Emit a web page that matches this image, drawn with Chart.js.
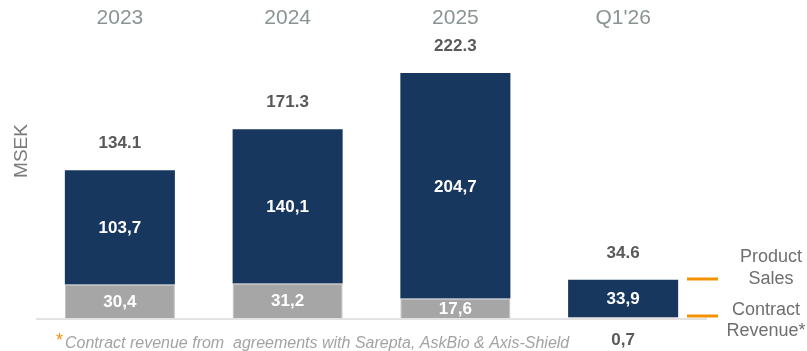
<!DOCTYPE html>
<html>
<head>
<meta charset="utf-8">
<script src="https://cdn.jsdelivr.net/npm/chart.js@4/dist/chart.umd.min.js"></script>
<style>
  html, body { margin: 0; padding: 0; background: #fff; }
  #wrap { position: relative; width: 807px; height: 351px; }
</style>
</head>
<body>
<div id="wrap"><canvas id="revenueChart"></canvas></div>
<script>
const periods = ["2023", "2024", "2025", "Q1'26"];
const contractRevenue = [30.4, 31.2, 17.6, 0.7];
const productSales = [103.7, 140.1, 204.7, 33.9];
const legendItems = [["Product", "Sales"], ["Contract", "Revenue*"]];
const footnote = "Contract revenue from  agreements with Sarepta, AskBio & Axis-Shield";

const colors = {
  navy: "#17375e",
  gray: "#a6a6a6",
  header: "#8a9393",
  total: "#595959",
  legend: "#6f6f6f",
  note: "#a3a3a3",
  orange: "#f39200",
  axis: "#d9d9d9"
};

const FONT = '"Liberation Sans", Arial, Helvetica, sans-serif';
const fmtComma = v => v.toFixed(1).replace(".", ",");

// all the text and the baseline are drawn here, placed from the chart's own scales
const annotations = {
  id: "annotations",
  afterDatasetsDraw(chart) {
    const { ctx, scales: { x, y }, chartArea } = chart;
    const base = y.getPixelForValue(0);
    ctx.save();

    // baseline
    ctx.strokeStyle = colors.axis;
    ctx.lineWidth = 1.5;
    ctx.beginPath();
    ctx.moveTo(chartArea.left, base + 1);
    ctx.lineTo(chartArea.right, base + 1);
    ctx.stroke();

    ctx.textAlign = "center";
    ctx.textBaseline = "middle";

    // period headers
    ctx.fillStyle = colors.header;
    ctx.font = `21px ${FONT}`;
    periods.forEach((p, i) => ctx.fillText(p, x.getPixelForValue(i), 18));

    // segment values
    const gray = chart.getDatasetMeta(0).data;
    const navy = chart.getDatasetMeta(1).data;
    ctx.font = `bold 17px ${FONT}`;
    gray.forEach((bar, i) => {
      const h = bar.base - bar.y;
      if (h > 14) {
        ctx.fillStyle = "#fff";
        ctx.fillText(fmtComma(contractRevenue[i]), bar.x, (bar.y + bar.base) / 2 + 1);
      } else {
        ctx.fillStyle = colors.total;
        ctx.fillText(fmtComma(contractRevenue[i]), bar.x, base + 22);
      }
    });
    navy.forEach((bar, i) => {
      ctx.fillStyle = "#fff";
      ctx.fillText(fmtComma(productSales[i]), bar.x, (bar.y + bar.base) / 2 + 1);
    });

    // totals above the stacks
    ctx.fillStyle = colors.total;
    ctx.font = `bold 17px ${FONT}`;
    navy.forEach((bar, i) => {
      const total = contractRevenue[i] + productSales[i];
      ctx.fillText(total.toFixed(1), bar.x, bar.y - 27);
    });

    // y title
    ctx.save();
    ctx.translate(22, 151);
    ctx.rotate(-Math.PI / 2);
    ctx.fillStyle = "#7a7a7a";
    ctx.font = `19px ${FONT}`;
    ctx.fillText("MSEK", 0, 0);
    ctx.restore();

    // side legend with orange markers
    ctx.fillStyle = colors.legend;
    ctx.font = `18px ${FONT}`;
    ctx.fillText(legendItems[0][0], 771, 257);
    ctx.fillText(legendItems[0][1], 771, 279);
    ctx.fillText(legendItems[1][0], 766, 310);
    ctx.fillText(legendItems[1][1], 766, 331);
    ctx.strokeStyle = colors.orange;
    ctx.lineWidth = 3;
    [279, 316].forEach(ly => {
      ctx.beginPath();
      ctx.moveTo(687, ly);
      ctx.lineTo(718, ly);
      ctx.stroke();
    });

    // footnote
    ctx.textAlign = "left";
    ctx.fillStyle = colors.orange;
    ctx.font = `18px ${FONT}`;
    ctx.fillText("*", 56, 341);
    ctx.fillStyle = colors.note;
    ctx.font = `italic 16px ${FONT}`;
    ctx.fillText(footnote, 65, 344);

    ctx.restore();
  }
};

new Chart(document.getElementById("revenueChart"), {
  type: "bar",
  data: {
    labels: periods,
    datasets: [
      {
        label: "Contract Revenue*",
        data: contractRevenue,
        backgroundColor: colors.gray,
        borderColor: "#bdbdbd",
        borderWidth: 1,
        barPercentage: 0.656,
        categoryPercentage: 1
      },
      {
        label: "Product Sales",
        data: productSales,
        backgroundColor: colors.navy,
        borderWidth: 0,
        barPercentage: 0.656,
        categoryPercentage: 1
      }
    ]
  },
  options: {
    responsive: true,
    maintainAspectRatio: false,
    animation: false,
    layout: { padding: { left: 36, right: 100, top: 42.5, bottom: 33 } },
    plugins: {
      legend: { display: false },
      tooltip: { enabled: false }
    },
    scales: {
      x: { stacked: true, display: false },
      y: { stacked: true, display: false, min: 0, max: 250 }
    }
  },
  plugins: [annotations]
});
</script>
</body>
</html>
